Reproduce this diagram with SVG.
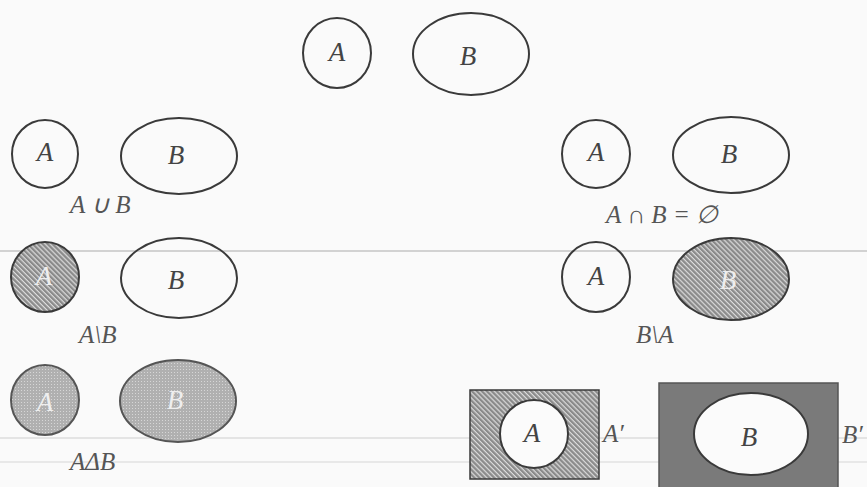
<svg xmlns="http://www.w3.org/2000/svg" width="867" height="487" viewBox="0 0 867 487">
<defs>
<pattern id="hatch" width="3.5" height="3.5" patternUnits="userSpaceOnUse" patternTransform="rotate(45)">
<rect width="3.5" height="3.5" fill="#8a8a8a"/>
<rect width="3.5" height="1.2" fill="#dcdcdc"/>
</pattern>
<pattern id="dots" width="3" height="3" patternUnits="userSpaceOnUse">
<rect width="3" height="3" fill="#b0b0b0"/>
<rect width="1" height="1" fill="#d6d6d6"/>
</pattern>
<style>
.o{fill:none;stroke:#3a3a3a;stroke-width:2}
.w{fill:#fbfbfb;stroke:#3a3a3a;stroke-width:2}
.h{fill:url(#hatch);stroke:#3a3a3a;stroke-width:2}
.d{fill:url(#dots);stroke:#555;stroke-width:2}
.t{font-family:"Liberation Serif",serif;font-style:italic;font-size:27px;fill:#444;text-anchor:middle;dominant-baseline:central}
.tl{font-family:"Liberation Serif",serif;font-style:italic;font-size:25px;fill:#555}
.tw{font-family:"Liberation Serif",serif;font-style:italic;font-size:27px;fill:#eeeeee;text-anchor:middle;dominant-baseline:central}
.sep{stroke:#c4c4c4;stroke-width:1.5}
</style>
</defs>
<rect width="867" height="487" fill="#fafafa"/>
<g id="scan-lines">
<line class="sep" x1="0" y1="251" x2="867" y2="251"/>
<line x1="0" y1="438" x2="867" y2="438" stroke="#e4e4e4" stroke-width="2"/>
<line x1="0" y1="462" x2="867" y2="462" stroke="#e8e8e8" stroke-width="2"/>
</g>
<g id="top">
<ellipse class="o" cx="337" cy="53" rx="34" ry="35"/>
<text class="t" x="337" y="52">A</text>
<ellipse class="o" cx="471" cy="54" rx="58" ry="41"/>
<text class="t" x="468" y="56">B</text>
</g>
<g id="union">
<ellipse class="o" cx="45" cy="154" rx="33" ry="34"/>
<text class="t" x="45" y="152">A</text>
<ellipse class="o" cx="179" cy="156" rx="58" ry="38"/>
<text class="t" x="176" y="155">B</text>
<text class="tl" x="70" y="213">A ∪ B</text>
</g>
<g id="intersection">
<ellipse class="o" cx="596" cy="154" rx="34" ry="34"/>
<text class="t" x="596" y="152">A</text>
<ellipse class="o" cx="731" cy="155" rx="58" ry="38"/>
<text class="t" x="729" y="154">B</text>
<text class="tl" x="606" y="223">A ∩ B = ∅</text>
</g>
<g id="a-minus-b">
<ellipse class="h" cx="45" cy="277" rx="34" ry="35"/>
<text class="tw" x="44" y="276">A</text>
<ellipse class="o" cx="179" cy="278" rx="58" ry="40"/>
<text class="t" x="176" y="280">B</text>
<text class="tl" x="79" y="343">A\B</text>
</g>
<g id="b-minus-a">
<ellipse class="o" cx="596" cy="277" rx="34" ry="35"/>
<text class="t" x="596" y="276">A</text>
<ellipse class="h" cx="731" cy="279" rx="58" ry="41"/>
<text class="tw" x="728" y="280">B</text>
<text class="tl" x="636" y="343">B\A</text>
</g>
<g id="sym-diff">
<ellipse class="d" cx="45" cy="400" rx="34" ry="35"/>
<text class="tw" x="45" y="402">A</text>
<ellipse class="d" cx="178" cy="401" rx="58" ry="41"/>
<text class="tw" x="175" y="400">B</text>
<text class="tl" x="70" y="470">AΔB</text>
</g>
<g id="complement-a">
<rect x="470" y="390" width="129" height="89" fill="url(#hatch)" stroke="#3a3a3a" stroke-width="1.5"/>
<ellipse class="w" cx="534" cy="434" rx="34" ry="34"/>
<text class="t" x="532" y="433">A</text>
<text class="tl" x="603" y="442">A′</text>
</g>
<g id="complement-b">
<rect x="659" y="383" width="179" height="106" fill="#7a7a7a" stroke="#555" stroke-width="1.5"/>
<ellipse class="w" cx="751" cy="434" rx="57" ry="41"/>
<text class="t" x="749" y="437">B</text>
<text class="tl" x="842" y="443">B′</text>
</g>
</svg>
